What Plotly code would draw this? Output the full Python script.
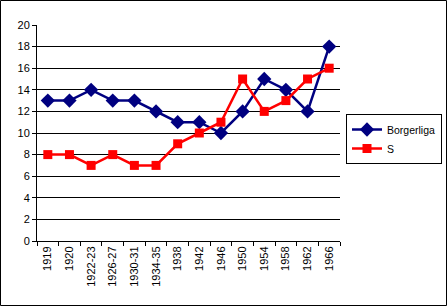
import plotly.graph_objects as go

categories = ["1919", "1920", "1922-23", "1926-27", "1930-31", "1934-35", "1938",
              "1942", "1946", "1950", "1954", "1958", "1962", "1966"]
borgerliga = [13, 13, 14, 13, 13, 12, 11, 11, 10, 12, 15, 14, 12, 18]
s_values = [8, 8, 7, 8, 7, 7, 9, 10, 11, 15, 12, 13, 15, 16]

W, H = 447, 306
L, R, T, B = 37, 107, 25, 65
pw, ph = W - L - R, H - T - B

fig = go.Figure()
fig.add_trace(go.Scatter(x=categories, y=borgerliga, name="Borgerliga", mode="lines+markers",
                         line=dict(color="#000080", width=2.5),
                         marker=dict(symbol="diamond", size=11, color="#000080")))
fig.add_trace(go.Scatter(x=categories, y=s_values, name="S", mode="lines+markers",
                         line=dict(color="#FF0000", width=2.5),
                         marker=dict(symbol="square", size=9, color="#FF0000")))

font = dict(family="Liberation Sans, Arial", size=11, color="black")
lfont = dict(family="Liberation Sans, Arial", size=10.5, color="black")
fig.update_layout(
    width=W, height=H,
    margin=dict(l=L, r=R, t=T, b=B, autoexpand=False),
    paper_bgcolor="white", plot_bgcolor="white",
    font=font,
    xaxis=dict(type="category", showgrid=False, showline=True, linecolor="black", linewidth=1,
               ticks="outside", ticklen=4, tickcolor="black", tickson="boundaries",
               tickangle=-90, tickfont=font, range=[-0.5, len(categories) - 0.5]),
    yaxis=dict(range=[0, 20], dtick=2, showgrid=True, gridcolor="black", gridwidth=1,
               showline=True, linecolor="black", linewidth=1, ticks="outside", ticklen=4,
               tickcolor="black", tickfont=font, zeroline=False),
    legend=dict(x=(346 - L) / pw, y=(H - B - 114) / ph, xanchor="left", yanchor="top",
                bordercolor="black", borderwidth=1, bgcolor="white", font=lfont,
                itemwidth=30, tracegroupgap=0),
    showlegend=True,
)
fig.add_shape(type="rect", xref="paper", yref="paper",
              x0=-(L - 0.5) / pw, x1=(W - L - 0.5) / pw,
              y0=-(B - 0.5) / ph, y1=(H - B - 0.5) / ph,
              line=dict(color="black", width=1), layer="above")
fig.write_html("out.html")
